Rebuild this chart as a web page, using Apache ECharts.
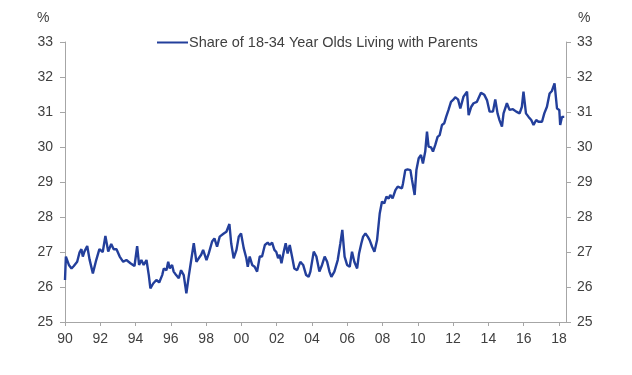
<!DOCTYPE html>
<html>
<head>
<meta charset="utf-8">
<title>Share of 18-34 Year Olds Living with Parents</title>
<script src="https://cdn.jsdelivr.net/npm/echarts@6/dist/echarts.min.js"></script>
<style>
  html, body { margin: 0; padding: 0; background: #fff; }
  #chart { width: 632px; height: 375px; }
</style>
</head>
<body>
<div id="chart"></div>
<script>
// readings: decimal year / percent share
const years = [
  1990.0, 1990.05, 1990.22, 1990.37, 1990.5, 1990.69, 1990.82, 1990.93, 1991.01, 1991.1,
  1991.26, 1991.39, 1991.58, 1991.77, 1991.95, 1992.14, 1992.29, 1992.45, 1992.62, 1992.76,
  1992.92, 1993.1, 1993.3, 1993.48, 1993.71, 1993.94, 1994.09, 1994.2, 1994.33, 1994.46,
  1994.62, 1994.75, 1994.84, 1995.0, 1995.18, 1995.34, 1995.51, 1995.6, 1995.75, 1995.85,
  1995.94, 1996.07, 1996.16, 1996.3, 1996.45, 1996.58, 1996.73, 1996.88, 1997.01, 1997.17,
  1997.3, 1997.45, 1997.58, 1997.72, 1997.83, 1997.92, 1998.02, 1998.15, 1998.34, 1998.47,
  1998.62, 1998.77, 1999.0, 1999.15, 1999.32, 1999.42, 1999.56, 1999.72, 1999.85, 1999.98,
  2000.13, 2000.28, 2000.36, 2000.47, 2000.61, 2000.75, 2000.89, 2001.04, 2001.17, 2001.33,
  2001.49, 2001.6, 2001.74, 2001.87, 2001.98, 2002.08, 2002.17, 2002.27, 2002.4, 2002.51,
  2002.62, 2002.74, 2002.87, 2003.0, 2003.16, 2003.34, 2003.5, 2003.67, 2003.81, 2003.91,
  2004.1, 2004.25, 2004.42, 2004.57, 2004.72, 2004.86, 2004.99, 2005.1, 2005.27, 2005.46,
  2005.61, 2005.72, 2005.85, 2005.99, 2006.14, 2006.27, 2006.4, 2006.56, 2006.67, 2006.8,
  2006.9, 2007.03, 2007.16, 2007.27, 2007.41, 2007.54, 2007.69, 2007.84, 2007.97, 2008.1,
  2008.22, 2008.35, 2008.44, 2008.57, 2008.73, 2008.86, 2008.97, 2009.1, 2009.16, 2009.29,
  2009.42, 2009.58, 2009.67, 2009.82, 2009.92, 2010.05, 2010.18, 2010.29, 2010.42, 2010.52,
  2010.61, 2010.75, 2010.86, 2010.99, 2011.12, 2011.24, 2011.37, 2011.5, 2011.61, 2011.74,
  2011.88, 2012.03, 2012.12, 2012.28, 2012.41, 2012.59, 2012.79, 2012.88, 2013.03, 2013.16,
  2013.35, 2013.58, 2013.77, 2013.92, 2014.07, 2014.26, 2014.39, 2014.52, 2014.63, 2014.77,
  2014.86, 2015.05, 2015.2, 2015.39, 2015.58, 2015.77, 2015.9, 2015.99, 2016.13, 2016.28,
  2016.43, 2016.56, 2016.71, 2016.84, 2017.04, 2017.17, 2017.32, 2017.47, 2017.6, 2017.75,
  2017.89, 2018.02, 2018.07, 2018.17, 2018.3
];
const share = [
  26.2, 26.87, 26.63, 26.53, 26.6, 26.72, 26.98, 27.08, 26.87, 27.01,
  27.17, 26.79, 26.39, 26.77, 27.08, 27.0, 27.46, 27.01, 27.23, 27.08,
  27.08, 26.87, 26.72, 26.77, 26.68, 26.6, 27.17, 26.63, 26.77, 26.63,
  26.77, 26.34, 25.96, 26.1, 26.2, 26.13, 26.34, 26.53, 26.48, 26.72,
  26.53, 26.63, 26.44, 26.34, 26.25, 26.48, 26.34, 25.82, 26.29, 26.82,
  27.25, 26.72, 26.82, 26.92, 27.06, 27.11, 26.77, 26.96, 27.3, 27.39,
  27.15, 27.44, 27.53, 27.58, 27.8, 27.25, 26.82, 27.06, 27.44, 27.53,
  27.11, 26.82, 26.58, 26.87, 26.63, 26.58, 26.44, 26.87, 26.87, 27.2,
  27.27, 27.2, 27.27, 27.06, 27.0, 26.82, 26.92, 26.68, 27.01, 27.25,
  26.96, 27.2, 26.87, 26.53, 26.48, 26.72, 26.63, 26.34, 26.29, 26.44,
  27.01, 26.87, 26.44, 26.63, 26.87, 26.72, 26.44, 26.29, 26.44, 26.77,
  27.25, 27.63, 26.87, 26.63, 26.58, 27.01, 26.72, 26.53, 26.96, 27.25,
  27.44, 27.53, 27.44, 27.34, 27.15, 27.01, 27.34, 28.1, 28.44, 28.39,
  28.58, 28.53, 28.63, 28.53, 28.77, 28.87, 28.82, 28.82, 28.96, 29.34,
  29.36, 29.34, 29.06, 28.63, 29.34, 29.68, 29.77, 29.53, 29.87, 30.44,
  30.01, 29.99, 29.87, 30.06, 30.29, 30.34, 30.63, 30.68, 30.87, 31.06,
  31.29, 31.36, 31.42, 31.36, 31.1, 31.44, 31.58, 30.91, 31.15, 31.25,
  31.29, 31.55, 31.49, 31.34, 31.01, 31.01, 31.36, 30.96, 30.77, 30.58,
  30.96, 31.25, 31.06, 31.08, 31.01, 30.96, 31.15, 31.58, 30.96, 30.86,
  30.77, 30.63, 30.77, 30.72, 30.72, 30.96, 31.15, 31.53, 31.6, 31.82,
  31.1, 31.06, 30.63, 30.86, 30.86
];
const yTicks = { min: 25, max: 33, step: 1 };
const xRange = { min: 1990, max: 2018.4, step: 2 };
const seriesName = 'Share of 18-34 Year Olds Living with Parents';

const textColor = '#404040';
const axisColor = '#a6a6a6';
const lineColor = '#233f9b';
const font = '"Liberation Sans", Arial, sans-serif';
const labelSize = 14;

const chart = echarts.init(document.getElementById('chart'));

// both side axes carry the same scale
const sideAxis = (position, margin) => ({
  type: 'value',
  position,
  min: yTicks.min,
  max: yTicks.max,
  interval: yTicks.step,
  splitLine: { show: false },
  axisLine: { show: true, lineStyle: { color: axisColor, width: 1 } },
  axisTick: { show: true, length: 5, lineStyle: { color: axisColor } },
  axisLabel: { color: textColor, fontSize: labelSize, fontFamily: font, margin }
});

chart.setOption({
  animation: false,
  backgroundColor: '#fff',
  grid: { left: 65, right: 66, top: 42, bottom: 53, containLabel: false },
  legend: {
    left: 157,
    top: 35,
    padding: 0,
    data: [{ name: seriesName, icon: 'rect' }],
    itemWidth: 31,
    itemHeight: 2,
    textStyle: { color: textColor, fontSize: 14.5, fontFamily: font, padding: [0, 0, 0, -4] },
    selectedMode: false
  },
  graphic: [
    { type: 'text', left: 37, top: 11, style: { text: '%', fill: textColor, font: labelSize + 'px ' + font } },
    { type: 'text', left: 578, top: 11, style: { text: '%', fill: textColor, font: labelSize + 'px ' + font } }
  ],
  xAxis: {
    type: 'value',
    min: xRange.min,
    max: xRange.max,
    interval: xRange.step,
    splitLine: { show: false },
    axisLine: { show: true, onZero: false, lineStyle: { color: axisColor, width: 1 } },
    axisTick: { show: true, length: 4, lineStyle: { color: axisColor } },
    axisLabel: {
      color: textColor,
      fontSize: labelSize,
      fontFamily: font,
      margin: 10,
      showMaxLabel: false,
      formatter: v => (Math.abs(v - Math.round(v)) < 1e-6 && Math.round(v) % 2 === 0)
        ? String(Math.round(v) % 100).padStart(2, '0') : ''
    }
  },
  yAxis: [sideAxis('left', 12), sideAxis('right', 11)],
  series: [{
    name: seriesName,
    type: 'line',
    yAxisIndex: 0,
    data: years.map((y, i) => [y, share[i]]),
    showSymbol: false,
    smooth: false,
    lineStyle: { color: lineColor, width: 2.4 },
    itemStyle: { color: lineColor }
  }]
});
</script>
</body>
</html>
